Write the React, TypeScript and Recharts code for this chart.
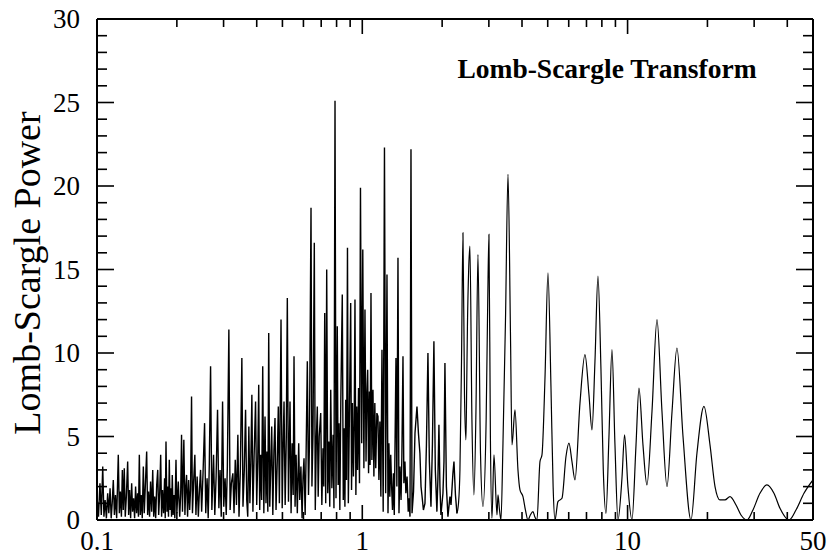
// Lomb-Scargle periodogram on a log frequency axis, boxed plot with inward ticks.
import { Line, LineChart, XAxis, YAxis } from "recharts";

type Pt = [number, number]; // [frequency, power]

// 0.1 – 0.2 : dense low-level noise
const bandA: Pt[] = [
  [0.1, 1.4], [0.1013, 0.2], [0.1026, 2.2], [0.1038, 0.3], [0.1051, 3.2], [0.1062, 0.2],
  [0.1073, 1.2], [0.1085, 0.1], [0.1097, 1.6], [0.1108, 0.4], [0.112, 1.9], [0.1131, 0.1],
  [0.1141, 1.0], [0.1152, 2.4], [0.1163, 0.3], [0.1174, 1.5], [0.1186, 0.1], [0.1203, 3.9],
  [0.1214, 0.4], [0.1225, 1.7], [0.1236, 0.2], [0.1246, 3.0], [0.1256, 0.6], [0.1267, 3.1],
  [0.1278, 0.2], [0.129, 1.4], [0.1305, 3.5], [0.1316, 0.3], [0.1327, 1.8], [0.1339, 0.1],
  [0.1351, 2.2], [0.1362, 0.5], [0.1374, 1.3], [0.1386, 0.1], [0.1398, 2.0], [0.141, 0.4],
  [0.1422, 1.6], [0.1433, 0.2], [0.1444, 3.9], [0.1456, 0.3], [0.1468, 1.5], [0.1481, 0.1],
  [0.1495, 3.2], [0.1507, 0.4], [0.152, 1.9], [0.1539, 4.1], [0.1552, 0.3], [0.1565, 1.7],
  [0.1578, 0.2], [0.1592, 2.3], [0.1607, 0.5], [0.1622, 3.0], [0.1636, 0.2], [0.165, 1.4],
  [0.1664, 0.1], [0.1679, 2.1], [0.1694, 3.0], [0.1708, 0.3], [0.1723, 1.6], [0.1738, 3.9],
  [0.1752, 0.2], [0.1766, 1.8], [0.1782, 0.4], [0.1798, 2.5], [0.1808, 0.1], [0.182, 4.7],
  [0.1835, 0.5], [0.1848, 2.0], [0.186, 0.2], [0.1873, 3.6], [0.1886, 0.6], [0.1898, 1.9],
  [0.191, 0.2], [0.1922, 2.7], [0.1936, 0.3], [0.195, 1.5], [0.1965, 0.1], [0.1985, 3.6],
  [0.2, 0.4],
];

// 0.2 – 0.4
const bandB: Pt[] = [
  [0.2025, 2.3], [0.205, 0.2], [0.2068, 1.6], [0.2083, 5.1], [0.21, 0.5], [0.2125, 4.8],
  [0.2145, 0.3], [0.216, 1.9], [0.2176, 2.7], [0.2195, 0.2], [0.2215, 2.4], [0.2235, 0.6],
  [0.2252, 1.8], [0.2272, 7.4], [0.229, 0.4], [0.2312, 2.2], [0.2338, 3.9], [0.236, 0.3],
  [0.2385, 2.6], [0.241, 0.2], [0.2435, 1.9], [0.2457, 3.0], [0.248, 0.5], [0.251, 2.8],
  [0.2544, 5.8], [0.257, 0.4], [0.26, 2.5], [0.2625, 0.1], [0.265, 3.3], [0.268, 9.2],
  [0.271, 0.6], [0.275, 3.9], [0.278, 0.3], [0.2812, 2.6], [0.2847, 6.6], [0.288, 0.7],
  [0.291, 3.0], [0.294, 0.2], [0.2974, 7.1], [0.3005, 0.8], [0.304, 2.5], [0.307, 0.3],
  [0.31, 3.2], [0.3141, 11.4], [0.3175, 0.6], [0.321, 2.2], [0.3252, 2.8], [0.3285, 0.4],
  [0.332, 3.6], [0.3355, 0.9], [0.3396, 5.1], [0.343, 0.2], [0.347, 3.0], [0.3516, 9.7],
  [0.355, 0.8], [0.359, 2.9], [0.3631, 6.6], [0.3668, 1.2], [0.37, 0.2], [0.3736, 5.6],
  [0.377, 1.0], [0.38, 3.4], [0.3835, 7.5], [0.387, 0.5], [0.391, 3.8], [0.396, 7.1],
  [0.4, 0.9],
];

// 0.4 – 0.8
const bandC: Pt[] = [
  [0.4035, 3.5], [0.407, 8.1], [0.4105, 0.6], [0.414, 3.9], [0.4175, 1.2], [0.4214, 9.2],
  [0.4255, 0.4], [0.4299, 6.2], [0.4335, 1.0], [0.437, 4.1], [0.4405, 0.5], [0.4439, 11.2],
  [0.448, 0.8], [0.452, 3.3], [0.4556, 5.6], [0.46, 0.3], [0.4645, 4.2], [0.4688, 6.1],
  [0.473, 0.6], [0.478, 3.5], [0.4825, 6.8], [0.487, 1.0], [0.4939, 12.0], [0.499, 0.7],
  [0.503, 4.4], [0.507, 7.1], [0.512, 0.9], [0.517, 4.9], [0.5217, 13.3], [0.527, 1.1],
  [0.53, 3.8], [0.534, 7.1], [0.539, 0.4], [0.544, 4.6], [0.549, 1.5], [0.5529, 9.8],
  [0.558, 0.8], [0.563, 3.9], [0.569, 0.4], [0.5759, 4.6], [0.581, 1.2], [0.587, 3.2],
  [0.593, 0.1], [0.598, 2.6], [0.603, 3.7], [0.609, 0.3], [0.614, 3.9], [0.6206, 9.5],
  [0.627, 1.5], [0.632, 4.5], [0.6408, 18.7], [0.646, 2.0], [0.652, 5.2], [0.6594, 16.6],
  [0.665, 0.6], [0.671, 4.8], [0.6768, 6.8], [0.682, 1.4], [0.688, 5.0], [0.6971, 6.4],
  [0.704, 0.9], [0.711, 4.3], [0.716, 2.0], [0.7217, 12.4], [0.728, 1.0], [0.7343, 15.0],
  [0.741, 1.6], [0.748, 4.7], [0.754, 0.8], [0.7604, 7.8], [0.768, 1.9], [0.776, 5.1],
  [0.782, 0.7], [0.7892, 25.1], [0.796, 1.3],
];

// 0.8 – 1.6
const bandD: Pt[] = [
  [0.8049, 11.6], [0.811, 2.1], [0.817, 5.8], [0.823, 0.6], [0.83, 7.2], [0.8406, 13.5],
  [0.848, 1.2], [0.854, 5.5], [0.86, 0.8], [0.8658, 7.2], [0.872, 2.4], [0.8794, 16.3],
  [0.886, 1.0], [0.894, 6.1], [0.9042, 13.0], [0.911, 1.8], [0.918, 7.0], [0.926, 2.6],
  [0.932, 5.4], [0.9385, 13.2], [0.946, 1.5], [0.953, 6.8], [0.96, 3.0], [0.968, 7.9],
  [0.976, 2.2], [0.9844, 19.9], [0.995, 4.6], [1.0043, 16.2], [1.014, 3.1], [1.0236, 12.6],
  [1.033, 3.5], [1.04, 7.4], [1.0479, 9.0], [1.056, 2.8], [1.064, 7.7], [1.07, 3.3],
  [1.0784, 13.6], [1.087, 3.6], [1.0972, 7.8], [1.106, 2.6], [1.115, 7.0], [1.124, 3.1],
  [1.135, 6.4], [1.1458, 6.2], [1.155, 2.4], [1.165, 5.9], [1.175, 1.4], [1.1863, 10.2],
  [1.199, 0.5], [1.2123, 22.3], [1.225, 1.6], [1.239, 14.7], [1.25, 0.4], [1.26, 4.6],
  [1.27, 1.4], [1.28, 3.9], [1.2906, 1.9], [1.3, 0.6], [1.31, 2.8], [1.32, 0.3],
  [1.3396, 9.7], [1.35, 2.0], [1.3631, 15.7], [1.375, 0.4], [1.387, 3.2], [1.4, 1.2],
  [1.41, 3.8], [1.4236, 9.8], [1.435, 2.2], [1.448, 3.5], [1.46, 1.6], [1.475, 2.6],
  [1.49, 0.5], [1.5, 1.3], [1.513, 0.2], [1.526, 22.2], [1.54, 0.4], [1.56, 1.7],
  [1.58, 5.2], [1.6075, 6.8],
];

// 1.6 – 2.3
const bandE: Pt[] = [
  [1.628, 5.2], [1.649, 4.0], [1.665, 2.0], [1.678, 1.5], [1.7, 0.6], [1.723, 1.0],
  [1.745, 4.5], [1.768, 10.0], [1.79, 3.5], [1.815, 0.8], [1.838, 4.5], [1.862, 10.7],
  [1.885, 3.0], [1.911, 0.5], [1.928, 2.5], [1.945, 5.7], [1.962, 2.0], [1.979, 0.3],
  [2.014, 1.6], [2.032, 3.5], [2.049, 9.4], [2.075, 2.0], [2.103, 0.2], [2.14, 1.4],
  [2.16, 0.9], [2.177, 1.8], [2.196, 2.8], [2.216, 3.5], [2.245, 1.5], [2.274, 0.4],
];

// 2.3 – 50 : well-resolved smooth peaks
const resolvedPeaks: Pt[] = [
  [2.274, 0.4], [2.305, 1.0], [2.334, 3.0], [2.366, 9.5], [2.396, 17.2], [2.428, 7.5],
  [2.459, 4.8], [2.475, 8.0], [2.491, 11.6], [2.518, 15.0], [2.545, 16.4], [2.59, 6.0],
  [2.635, 1.5], [2.682, 6.5], [2.729, 15.9], [2.79, 4.0], [2.85, 0.8], [2.93, 6.0],
  [2.97, 13.0], [3.002, 17.1], [3.04, 5.0], [3.082, 0.1], [3.136, 3.9], [3.219, 0.3],
  [3.247, 1.5], [3.29, 0.6], [3.333, 0], [3.391, 4.6], [3.466, 12.0], [3.542, 20.7],
  [3.62, 11.0], [3.667, 4.5], [3.764, 6.6], [3.862, 3.0], [3.93, 1.8], [4.034, 1.4],
  [4.12, 0.6], [4.212, 0], [4.3, 0.3], [4.399, 0.5], [4.47, 0.2], [4.555, 0],
  [4.675, 3.5], [4.757, 3.9], [4.883, 8.5], [5.011, 14.8], [5.143, 8.0], [5.24, 2.0],
  [5.325, 0], [5.465, 1.1], [5.659, 1.3], [5.859, 3.8], [6.013, 4.6], [6.172, 3.5],
  [6.335, 2.4], [6.616, 7.0], [6.909, 9.9], [7.153, 7.5], [7.342, 5.4], [7.535, 9.5],
  [7.734, 14.6], [7.938, 9.0], [8.1, 3.0], [8.29, 0.4], [8.508, 5.0], [8.733, 10.2],
  [8.963, 4.5], [9.199, 0], [9.525, 2.5], [9.743, 5.1], [10.03, 2.0], [10.39, 0],
  [10.76, 4.5], [11.04, 7.9], [11.43, 4.5], [11.83, 2.1], [12.36, 6.5], [12.91, 12.0],
  [13.48, 6.5], [14.08, 2.0], [14.71, 6.5], [15.35, 10.3], [16.18, 5.0], [17.34, 0],
  [18.26, 4.0], [19.41, 6.8], [20.45, 4.5], [21.36, 2.0], [22.3, 1.2], [23.29, 1.2],
  [24.33, 1.4], [25.63, 0.9], [26.76, 0.3], [28.19, 0], [29.69, 0.6], [31.55, 1.6],
  [33.53, 2.1], [35.63, 1.6], [37.54, 0.7], [40.59, 0], [43.13, 0.6], [46.23, 1.6],
  [50, 2.4],
];

const xTicks = [
  0.1, 0.2, 0.3, 0.4, 0.5, 0.6, 0.7, 0.8, 0.9,
  1, 2, 3, 4, 5, 6, 7, 8, 9,
  10, 20, 30, 40, 50,
];
const xLabels = [0.1, 1, 10, 50];
const yTicks = Array.from({ length: 31 }, (_, i) => i);

const SERIF = "'Liberation Serif', 'Times New Roman', serif";

const toRows = (pts: Pt[]) => pts.map(([f, p]) => ({ f, p }));
const denseRows = toRows([...bandA, ...bandB, ...bandC, ...bandD, ...bandE]);
const smoothRows = toRows(resolvedPeaks);

function BottomTick({ x, y, payload }: any) {
  const v = payload.value;
  const major = v === 1 || v === 10;
  const corner = v === 0.1 || v === 50;
  return (
    <g>
      {!corner && (
        <line x1={x} x2={x} y1={y} y2={y - (major ? 15 : 8)} stroke="#000" strokeWidth={1.6} />
      )}
      {xLabels.includes(v) && (
        <text x={x} y={y + 30} textAnchor="middle" fontFamily={SERIF} fontSize={27} fill="#000">
          {String(v)}
        </text>
      )}
    </g>
  );
}

function TopTick({ x, y, payload }: any) {
  const v = payload.value;
  if (v === 0.1 || v === 50) return null;
  const major = v === 1 || v === 10;
  return <line x1={x} x2={x} y1={y} y2={y + (major ? 15 : 8)} stroke="#000" strokeWidth={1.6} />;
}

function LeftTick({ x, y, payload }: any) {
  const v = payload.value;
  const major = v % 5 === 0;
  const edge = v === 0 || v === 30;
  return (
    <g>
      {!edge && <line x1={x} x2={x + (major ? 17 : 10)} y1={y} y2={y} stroke="#000" strokeWidth={1.6} />}
      {major && (
        <text x={x - 17} y={y} dy={9} textAnchor="end" fontFamily={SERIF} fontSize={27} fill="#000">
          {v}
        </text>
      )}
    </g>
  );
}

function RightTick({ x, y, payload }: any) {
  const v = payload.value;
  if (v === 0 || v === 30) return null;
  const major = v % 5 === 0;
  return <line x1={x} x2={x - (major ? 17 : 10)} y1={y} y2={y} stroke="#000" strokeWidth={1.6} />;
}

function YTitle() {
  return (
    <text
      x={40}
      y={273}
      transform="rotate(-90 40 273)"
      textAnchor="middle"
      fontFamily={SERIF}
      fontSize={38}
      fill="#000"
    >
      Lomb-Scargle Power
    </text>
  );
}

function PlotTitle() {
  return (
    <text x={607} y={78} textAnchor="middle" fontFamily={SERIF} fontSize={27.5} fontWeight="bold" fill="#000">
      Lomb-Scargle Transform
    </text>
  );
}

const axisStroke = { stroke: "#000", strokeWidth: 2 };

export default function App() {
  return (
    <div style={{ width: 831, height: 556, background: "#fff" }}>
      <style>{"body{margin:0}"}</style>
      <LineChart width={831} height={556} margin={{ top: 0, right: 0, bottom: 0, left: 0 }}>
        <XAxis
          xAxisId="bottom"
          dataKey="f"
          type="number"
          scale="log"
          domain={[0.1, 50]}
          allowDataOverflow
          ticks={xTicks}
          interval={0}
          height={36}
          tickSize={0}
          tickMargin={0}
          tickLine={false}
          axisLine={axisStroke}
          tick={<BottomTick />}
        />
        <XAxis
          xAxisId="top"
          orientation="top"
          dataKey="f"
          type="number"
          scale="log"
          domain={[0.1, 50]}
          allowDataOverflow
          ticks={xTicks}
          interval={0}
          height={19}
          tickSize={0}
          tickMargin={0}
          tickLine={false}
          axisLine={axisStroke}
          tick={<TopTick />}
          label={<PlotTitle />}
        />
        <YAxis
          yAxisId="left"
          type="number"
          domain={[0, 30]}
          allowDataOverflow
          ticks={yTicks}
          interval={0}
          width={97}
          tickSize={0}
          tickMargin={0}
          tickLine={false}
          axisLine={axisStroke}
          tick={<LeftTick />}
          label={<YTitle />}
        />
        <YAxis
          yAxisId="right"
          orientation="right"
          type="number"
          domain={[0, 30]}
          allowDataOverflow
          ticks={yTicks}
          interval={0}
          width={18}
          tickSize={0}
          tickMargin={0}
          tickLine={false}
          axisLine={axisStroke}
          tick={<RightTick />}
        />
        <Line
          data={denseRows}
          xAxisId="bottom"
          yAxisId="left"
          dataKey="p"
          type="linear"
          stroke="#000"
          strokeWidth={1.4}
          dot={false}
          isAnimationActive={false}
        />
        <Line
          data={smoothRows}
          xAxisId="bottom"
          yAxisId="left"
          dataKey="p"
          type="monotone"
          stroke="#000"
          strokeWidth={1.2}
          dot={false}
          isAnimationActive={false}
        />
        <Line
          data={smoothRows}
          xAxisId="top"
          yAxisId="right"
          dataKey="p"
          stroke="none"
          dot={false}
          isAnimationActive={false}
        />
      </LineChart>
    </div>
  );
}
